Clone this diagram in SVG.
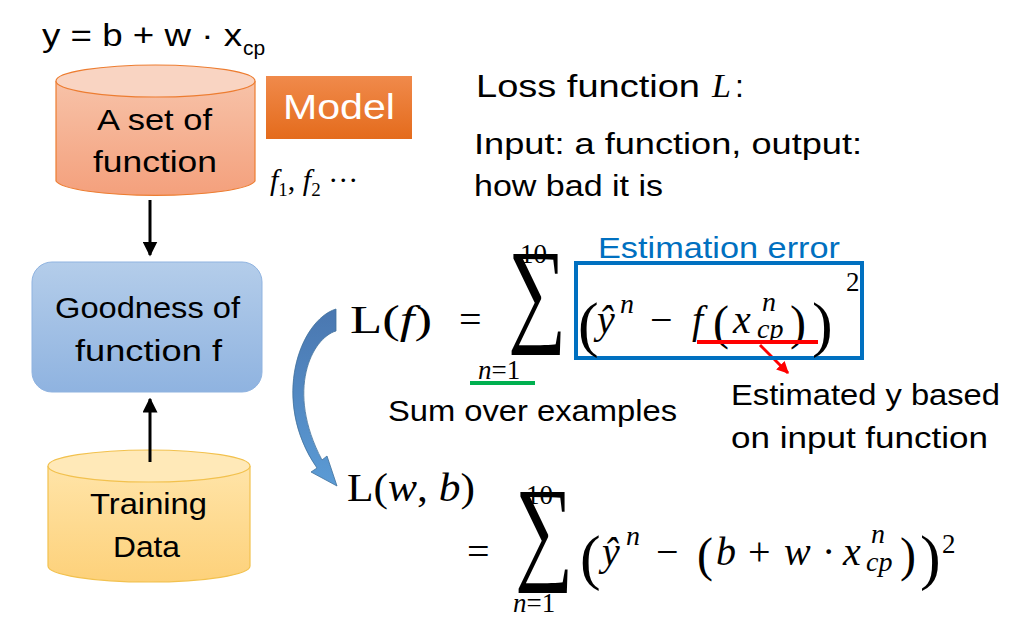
<svg xmlns="http://www.w3.org/2000/svg" width="1011" height="623" viewBox="0 0 1011 623">
<defs>
<style>
.s{font-family:"Liberation Sans","DejaVu Sans",sans-serif;fill:#000}
.m{font-family:"Liberation Serif","DejaVu Serif",serif;fill:#000}
.i{font-style:italic}
.p{font-family:"Liberation Serif",serif;font-size:62px;fill:#000}
.q{font-family:"Liberation Serif",serif;font-size:48px;fill:#000}
</style>
<linearGradient id="gO" x1="0" y1="0" x2="0" y2="1"><stop offset="0" stop-color="#f7c2a8"/><stop offset="1" stop-color="#f4a07c"/></linearGradient>
<linearGradient id="gY" x1="0" y1="0" x2="0" y2="1"><stop offset="0" stop-color="#ffe4a8"/><stop offset="1" stop-color="#fdd17a"/></linearGradient>
<linearGradient id="gB" x1="0" y1="0" x2="0" y2="1"><stop offset="0" stop-color="#b4cdea"/><stop offset="1" stop-color="#8fb3e0"/></linearGradient>
<linearGradient id="gM" x1="0" y1="0" x2="0" y2="1"><stop offset="0" stop-color="#f08a4b"/><stop offset="1" stop-color="#e46b1c"/></linearGradient>
<linearGradient id="gA" x1="0" y1="0" x2="0" y2="1"><stop offset="0" stop-color="#4a77b0"/><stop offset="1" stop-color="#5b9bd5"/></linearGradient>
<marker id="ah" viewBox="0 0 10 10" refX="9" refY="5" markerWidth="5" markerHeight="5" orient="auto"><path d="M0,0L10,5L0,10z" fill="#000"/></marker>
<marker id="ar" viewBox="0 0 10 10" refX="9" refY="5" markerWidth="4" markerHeight="4" orient="auto"><path d="M0,0L10,5L0,10z" fill="#f00"/></marker>
</defs>
<rect width="1011" height="623" fill="#fff"/>
<text class="s" x="42" y="46" font-size="31" textLength="200" lengthAdjust="spacingAndGlyphs">y = b + w · x</text>
<text class="s" x="243" y="55" font-size="21">cp</text>
<g id="setfunc">
<path d="M56,81 V181 A100,16 0 0 0 255,181 V81" fill="url(#gO)" stroke="#ed7d31" stroke-width="1.2"/>
<ellipse cx="155.5" cy="81" rx="99.5" ry="16" fill="#f9d4c2" stroke="#ed7d31" stroke-width="1.2"/>
<text class="s" x="97" y="130" font-size="30" textLength="115" lengthAdjust="spacingAndGlyphs">A set of</text>
<text class="s" x="93" y="172" font-size="30" textLength="124" lengthAdjust="spacingAndGlyphs">function</text>
</g>
<g id="model">
<rect x="266" y="76" width="146" height="63" fill="url(#gM)"/>
<text x="283" y="119" font-size="35" fill="#fff" font-family="Liberation Sans,sans-serif" textLength="112" lengthAdjust="spacingAndGlyphs">Model</text>
<text class="m i" x="270" y="190" font-size="30">f<tspan font-style="normal" font-size="19" dy="6">1</tspan><tspan dy="-6" font-style="normal">, </tspan>f<tspan font-style="normal" font-size="19" dy="6">2</tspan><tspan dy="-6" font-style="normal"> ···</tspan></text>
</g>
<g id="goodness">
<rect x="32" y="262" width="230" height="130" rx="20" fill="url(#gB)" stroke="#8fb3e0"/>
<text class="s" x="55" y="318" font-size="30" textLength="185" lengthAdjust="spacingAndGlyphs">Goodness of</text>
<text class="s" x="75" y="361" font-size="30" textLength="147" lengthAdjust="spacingAndGlyphs">function f</text>
</g>
<g id="training">
<path d="M48,466 V566 A101,16 0 0 0 250,566 V466" fill="url(#gY)" stroke="#f2c14e" stroke-width="1.2"/>
<ellipse cx="149" cy="466" rx="101" ry="16" fill="#ffe9b8" stroke="#f2c14e" stroke-width="1.2"/>
<text class="s" x="90" y="514" font-size="30" textLength="117" lengthAdjust="spacingAndGlyphs">Training</text>
<text class="s" x="113" y="557" font-size="30" textLength="67" lengthAdjust="spacingAndGlyphs">Data</text>
</g>
<g id="connectors">
<line x1="150" y1="200" x2="150" y2="255" stroke="#000" stroke-width="3" marker-end="url(#ah)"/>
<line x1="150" y1="462" x2="150" y2="399" stroke="#000" stroke-width="3" marker-end="url(#ah)"/>
<path d="M336,309 L336,331 C312,338 285,390 322,460 L327,456 L337,486 L311,472 L317,468 C270,400 300,320 336,309 Z" fill="url(#gA)" stroke="#41719c" stroke-width="0.8"/>
<line x1="760" y1="345" x2="788" y2="373" stroke="#f00" stroke-width="3" marker-end="url(#ar)"/>
</g>
<g id="loss">
<text class="s" x="476" y="97" font-size="32" textLength="224" lengthAdjust="spacingAndGlyphs">Loss function</text>
<text class="m i" x="712" y="97" font-size="34">L</text>
<text class="s" x="735" y="97" font-size="32">:</text>
<text class="s" x="474" y="154" font-size="29" textLength="388" lengthAdjust="spacingAndGlyphs">Input: a function, output:</text>
<text class="s" x="474" y="196" font-size="29" textLength="189" lengthAdjust="spacingAndGlyphs">how bad it is</text>
</g>
<g id="formula1">
<text class="m" x="350" y="333" font-size="40" textLength="82" lengthAdjust="spacingAndGlyphs">L(<tspan class="i">f</tspan>)</text>
<text class="m" x="459" y="333" font-size="40">=</text>
<text class="m" font-size="93" transform="translate(508,330) scale(0.88,1.25)">∑</text>
<text class="m" x="520" y="263" font-size="27">10</text>
<text class="m" x="478" y="379" font-size="27"><tspan class="i">n</tspan>=1</text>
<line x1="470" y1="383" x2="535" y2="383" stroke="#00b050" stroke-width="4"/>
<rect x="576" y="263" width="286" height="95" fill="none" stroke="#0070c0" stroke-width="4"/>
<text x="598" y="258" font-size="29" fill="#0070c0" font-family="Liberation Sans,sans-serif" textLength="242" lengthAdjust="spacingAndGlyphs">Estimation error</text>
<text class="p" x="578" y="345">(</text>
<text class="m i" x="597" y="333" font-size="40">ŷ</text>
<text class="m i" x="620" y="313" font-size="28">n</text>
<text class="m" x="650" y="333" font-size="40">−</text>
<text class="m i" x="692" y="333" font-size="40">f</text>
<text class="q" x="713" y="339">(</text>
<text class="m i" x="733" y="333" font-size="40">x</text>
<text class="m i" x="762" y="311" font-size="28">n</text>
<text class="m i" x="757" y="338" font-size="28">cp</text>
<text class="q" x="790" y="339">)</text>
<text class="p" x="812" y="345">)</text>
<text class="m" x="846" y="291" font-size="27">2</text>
<line x1="697" y1="342" x2="818" y2="342" stroke="#f00" stroke-width="4"/>
<text class="s" x="388" y="421" font-size="29" textLength="289" lengthAdjust="spacingAndGlyphs">Sum over examples</text>
<text class="s" x="731" y="405" font-size="29" textLength="269" lengthAdjust="spacingAndGlyphs">Estimated y based</text>
<text class="s" x="731" y="448" font-size="29" textLength="257" lengthAdjust="spacingAndGlyphs">on input function</text>
</g>
<g id="formula2">
<text class="m" x="347" y="501" font-size="40" textLength="128" lengthAdjust="spacingAndGlyphs">L(<tspan class="i">w</tspan>, <tspan class="i">b</tspan>)</text>
<text class="m" x="467" y="565" font-size="40">=</text>
<text class="m" font-size="93" transform="translate(515,568) scale(0.88,1.25)">∑</text>
<text class="m" x="526" y="504" font-size="27">10</text>
<text class="m" x="513" y="612" font-size="27"><tspan class="i">n</tspan>=1</text>
<text class="p" x="580" y="578">(</text>
<text class="m i" x="602" y="565" font-size="40">ŷ</text>
<text class="m i" x="626" y="545" font-size="28">n</text>
<text class="m" x="656" y="565" font-size="40">−</text>
<text class="q" x="697" y="571">(</text>
<text class="m i" x="716" y="565" font-size="40">b</text>
<text class="m" x="748" y="565" font-size="40">+</text>
<text class="m i" x="784" y="565" font-size="40">w</text>
<text class="m" x="822" y="565" font-size="40">·</text>
<text class="m i" x="843" y="565" font-size="40">x</text>
<text class="m i" x="871" y="543" font-size="28">n</text>
<text class="m i" x="866" y="571" font-size="28">cp</text>
<text class="q" x="900" y="571">)</text>
<text class="p" x="920" y="578">)</text>
<text class="m" x="942" y="553" font-size="27">2</text>
</g>
</svg>
